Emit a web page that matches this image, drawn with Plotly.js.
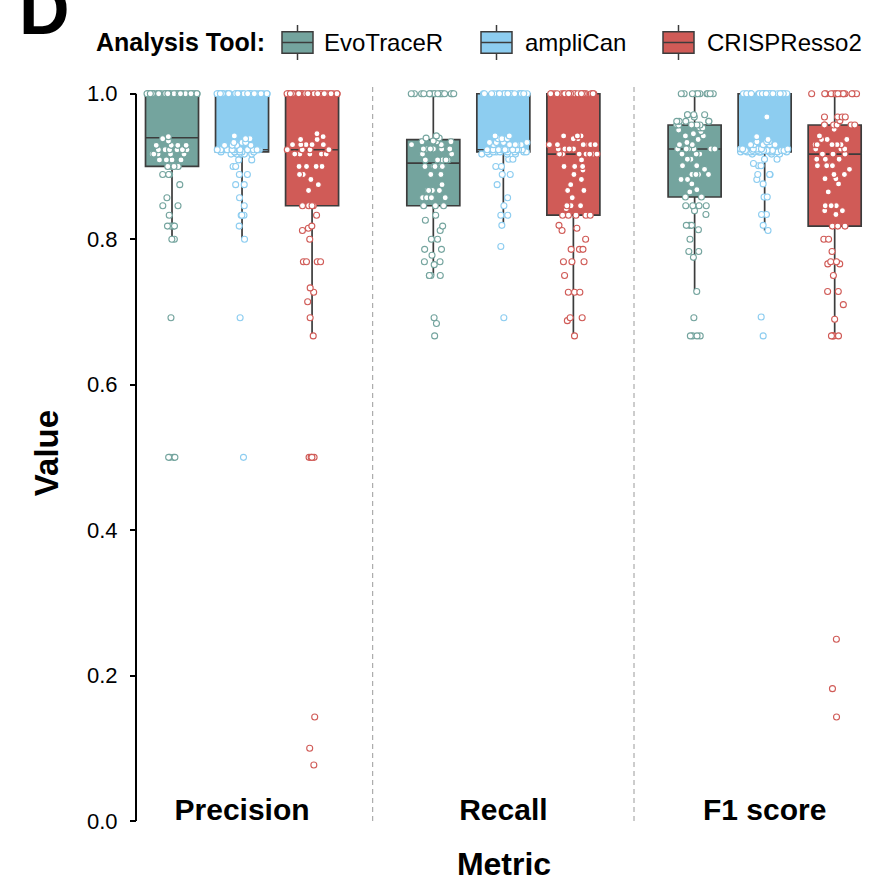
<!DOCTYPE html>
<html>
<head>
<meta charset="utf-8">
<script src="https://cdn.plot.ly/plotly-3.0.1.min.js"></script>
<style>html,body{margin:0;padding:0;background:#fff;}</style>
</head>
<body>
<div id="chart" style="width:871px;height:882px;"></div>
<script>
// ---------------- data ----------------
const metrics = ['Precision', 'Recall', 'F1 score'];
const tools = ['EvoTraceR', 'ampliCan', 'CRISPResso2'];
const toolColors = ['#74A49E', '#8DCDF0', '#D05B57'];
const yTicks = [0, 0.2, 0.4, 0.6, 0.8, 1.0];
const legendTitle = 'Analysis Tool:';
const panelLetter = 'D';

const evoPrecision = [1,1,1,1,1,1,1,1,1,1,1,1,1,1,1,1,1,1,1,1,1,1,1,1,1,1,1,1,1,1,1,1,1,1,1,1,1,1,1,1,1,1,1,
  0.941,0.938,0.935,0.929,0.929,0.929,0.929,0.923,0.923,0.923,0.923,0.923,0.923,0.917,0.917,0.917,0.917,0.917,
  0.909,0.909,0.909,0.909,0.9,0.9,0.9,0.9,0.889,0.889,0.889,0.875,0.857,0.846,0.846,0.833,
  0.818,0.818,0.818,0.818,0.8,0.8,0.692,0.5,0.5,0.5,0.5];
const ampliPrecision = [1,1,1,1,1,1,1,1,1,1,1,1,1,1,1,1,1,1,1,1,1,1,1,1,1,1,1,1,1,1,1,1,1,1,
  0.942,0.938,0.938,0.933,0.933,0.933,0.929,0.929,0.929,0.929,
  0.923,0.923,0.923,0.923,0.923,0.923,0.923,0.923,0.923,0.923,0.923,0.923,0.923,0.923,0.923,0.923,0.923,0.923,
  0.92,0.92,0.92,0.92,0.92,0.92,
  0.917,0.917,0.917,0.917,0.917,0.909,0.909,0.9,0.9,0.889,0.889,0.875,0.875,0.857,0.846,
  0.833,0.833,0.833,0.818,0.8,0.692,0.5];
const crisPrecision = [1,1,1,1,1,1,1,1,1,1,1,1,1,1,1,1,1,1,1,1,1,1,1,1,1,1,1,1,1,1,1,1,1,1,1,
  0.945,0.941,0.937,0.937,0.93,0.93,0.93,0.93,0.93,
  0.923,0.923,0.923,0.923,0.923,0.923,
  0.917,0.917,0.917,0.917,0.917,0.9,0.9,0.9,0.9,0.9,0.889,0.889,0.882,0.875,0.867,
  0.846,0.846,0.846,0.846,0.833,0.818,0.815,0.812,0.8,0.769,0.769,0.769,0.769,
  0.733,0.727,0.714,0.692,0.667,0.5,0.5,0.5,0.5,0.143,0.1,0.077];

const evoRecall = [1,1,1,1,1,1,1,1,1,1,1,1,1,1,1,1,1,
  0.942,0.939,0.939,0.935,0.934,0.934,0.934,0.93,0.93,
  0.924,0.924,0.924,0.924,0.924,0.924,0.917,0.917,
  0.909,0.909,0.909,0.909,0.909,0.909,0.9,0.9,0.9,0.9,0.9,0.9,
  0.889,0.889,0.875,0.867,0.867,0.867,0.867,0.857,0.857,0.857,0.857,0.857,0.846,0.846,0.846,
  0.833,0.826,0.818,0.812,0.8,0.8,0.786,0.786,0.778,0.769,0.769,0.765,
  0.75,0.75,0.75,0.75,0.692,0.684,0.667];
const ampliRecall = [1,1,1,1,1,1,1,1,1,1,1,1,1,1,1,1,1,1,1,1,1,1,1,
  0.942,0.942,0.938,0.938,0.938,0.933,0.933,0.933,0.933,0.93,0.93,0.93,0.93,0.93,
  0.923,0.923,0.923,0.923,0.923,0.923,0.923,0.923,0.923,0.923,0.923,0.923,0.923,
  0.92,0.92,0.92,0.92,0.92,0.92,0.92,0.92,
  0.917,0.917,0.917,0.917,0.91,0.91,0.9,0.9,0.889,0.889,0.875,0.857,0.846,
  0.833,0.833,0.819,0.79,0.692];
const crisRecall = [1,1,1,1,1,1,1,1,1,1,1,1,1,1,1,1,1,1,1,1,1,1,1,1,1,
  0.942,0.942,0.942,0.938,0.938,0.93,0.93,0.93,0.93,0.93,0.93,0.924,0.924,0.924,0.924,
  0.917,0.917,0.917,0.917,0.917,0.917,0.917,
  0.909,0.9,0.9,0.9,0.9,0.895,0.889,0.882,0.875,0.867,0.867,0.857,0.846,0.846,0.846,0.842,
  0.833,0.833,0.833,0.833,0.833,
  0.819,0.815,0.812,0.8,0.786,0.786,0.786,0.769,0.769,0.769,0.75,0.727,0.727,0.727,
  0.692,0.692,0.688,0.667];

const evoF1 = [1,1,1,1,1,1,1,1,1,1,
  0.971,0.971,0.971,0.971,0.968,0.962,0.962,0.962,0.962,0.962,
  0.957,0.957,0.957,0.957,0.957,0.953,0.953,0.95,0.948,0.945,0.942,0.942,0.937,0.933,0.93,0.93,
  0.924,0.924,0.924,0.924,0.924,0.924,
  0.917,0.917,0.917,0.91,0.91,0.901,0.901,0.901,0.896,0.889,0.889,0.889,0.889,0.882,0.882,0.876,0.868,0.865,0.858,0.858,
  0.846,0.846,0.846,0.846,0.839,0.834,0.819,0.819,0.819,0.813,0.8,0.783,0.783,0.775,
  0.728,0.692,0.667,0.667,0.667,0.667];
const ampliF1 = [1,1,1,1,1,1,1,1,1,1,1,1,1,1,1,1,1,1,1,1,1,1,1,1,1,
  0.968,0.941,0.937,0.934,0.934,0.934,0.93,0.93,0.93,0.93,0.93,0.924,0.924,0.924,0.924,0.924,0.924,
  0.922,0.922,0.922,0.922,0.922,0.922,0.922,0.922,0.922,0.922,0.922,0.922,
  0.92,0.92,0.92,0.92,0.92,0.92,0.92,0.92,0.92,0.92,0.92,
  0.917,0.917,0.917,0.91,0.91,0.904,0.901,0.901,0.889,0.889,0.889,0.882,0.876,0.858,0.858,
  0.834,0.834,0.819,0.812,0.693,0.667];
const crisF1 = [1,1,1,1,1,1,1,1,1,1,1,1,1,1,1,
  0.968,0.968,0.968,0.968,0.963,
  0.957,0.957,0.957,0.957,0.957,0.957,0.951,0.942,0.937,0.937,0.937,0.937,0.93,0.93,0.93,0.93,0.93,0.924,0.924,0.924,0.924,
  0.917,0.917,0.917,
  0.91,0.91,0.91,0.901,0.901,0.901,0.901,0.896,0.889,0.889,0.883,0.883,0.876,0.865,0.846,0.846,0.846,0.839,0.839,0.834,
  0.818,0.818,0.818,
  0.8,0.8,0.783,0.769,0.769,0.766,0.766,0.75,0.728,0.728,0.71,0.69,0.667,0.667,0.667,0.667,0.25,0.182,0.143];

const toolData = [
  [evoPrecision, evoRecall, evoF1],
  [ampliPrecision, ampliRecall, ampliF1],
  [crisPrecision, crisRecall, crisF1]
];

// ---------------- chart ----------------
const SANS = 'Liberation Sans, Arial, Helvetica, sans-serif';
const LINE = '#3c3c3c';

const traces = tools.map((name, k) => {
  const x = [], y = [];
  metrics.forEach((m, j) => {
    toolData[k][j].forEach(v => { x.push(m); y.push(v); });
  });
  return {
    type: 'box', name: name, x: x, y: y,
    boxpoints: 'all', jitter: 0.95, pointpos: 0,
    quartilemethod: 'linear',
    fillcolor: toolColors[k],
    line: { color: LINE, width: 1.7 },
    whiskerwidth: 0,
    marker: { color: '#ffffff', size: 6, line: { color: toolColors[k], width: 1.1 } },
    hoverinfo: 'skip', showlegend: false
  };
});

// plot area geometry (px) for placing the hand-built legend
const W = 871, H = 882, ML = 137, MR = 0, MT = 85, MB = 61;
const PW = W - ML - MR, PH = H - MT - MB;
const px2x = p => (p - ML) / PW;
const py2y = p => (H - MB - p) / PH;

const shapes = [];
// panel separators
[0.5, 1.5].forEach(xv => shapes.push({
  type: 'line', xref: 'x', yref: 'paper', x0: xv, x1: xv, y0: 0, y1: 1,
  line: { color: '#9a9a9a', width: 1, dash: '5px,4px' }, layer: 'below'
}));
// y axis line from 0 to 1
shapes.push({
  type: 'line', xref: 'paper', yref: 'y', x0: px2x(136), x1: px2x(136), y0: 0, y1: 1,
  line: { color: '#000', width: 2 }, layer: 'above'
});

const legendLeft = [282, 481, 663];
const legendTextLeft = [323, 524, 706];
const annotations = [
  { text: panelLetter, xref: 'paper', yref: 'paper', x: px2x(18), y: py2y(50), xanchor: 'left', yanchor: 'bottom',
    showarrow: false, borderpad: 0, font: { family: SANS, size: 70, color: '#000', weight: 'bold' } },
  { text: legendTitle, xref: 'paper', yref: 'paper', x: px2x(95), y: py2y(57), xanchor: 'left', yanchor: 'bottom',
    showarrow: false, borderpad: 0, font: { family: SANS, size: 25, color: '#000', weight: 'bold' } }
];
tools.forEach((name, k) => {
  const L = legendLeft[k];
  shapes.push({ type: 'line', xref: 'paper', yref: 'paper', x0: px2x(L + 15.5), x1: px2x(L + 15.5), y0: py2y(25), y1: py2y(60),
    line: { color: LINE, width: 1.5 } });
  shapes.push({ type: 'rect', xref: 'paper', yref: 'paper', x0: px2x(L), x1: px2x(L + 31), y0: py2y(31.7), y1: py2y(53.3),
    fillcolor: toolColors[k], line: { color: LINE, width: 1.5 } });
  shapes.push({ type: 'line', xref: 'paper', yref: 'paper', x0: px2x(L), x1: px2x(L + 31), y0: py2y(42.5), y1: py2y(42.5),
    line: { color: LINE, width: 1.5 } });
  annotations.push({ text: name, xref: 'paper', yref: 'paper', x: px2x(legendTextLeft[k]), y: py2y(57),
    xanchor: 'left', yanchor: 'bottom', showarrow: false, borderpad: 0,
    font: { family: SANS, size: 24, color: '#000' } });
});

const layout = {
  width: W, height: H,
  margin: { l: ML, r: MR, t: MT, b: MB, pad: 0 },
  paper_bgcolor: '#ffffff', plot_bgcolor: '#ffffff',
  boxmode: 'group', boxgap: 0.196, boxgroupgap: 0.243,
  showlegend: false,
  xaxis: {
    type: 'category', categoryorder: 'array', categoryarray: metrics,
    range: [-0.402, 2.407],
    anchor: 'free', position: 0.0435,
    showline: false, showgrid: false, zeroline: false, ticks: '', ticklen: 0,
    tickfont: { family: SANS, size: 30, color: '#000', weight: 'bold' },
    title: { text: 'Metric', standoff: 28, font: { family: SANS, size: 32, color: '#000', weight: 'bold' } },
    fixedrange: true
  },
  yaxis: {
    range: [0, 1.012],
    tickvals: yTicks, tickformat: '.1f',
    ticks: 'outside', ticklen: 6, tickwidth: 2, tickcolor: '#000',
    showline: false, showgrid: false, zeroline: false,
    ticklabelstandoff: 8,
    tickfont: { family: SANS, size: 22, color: '#000' },
    title: { text: 'Value', standoff: 18, font: { family: SANS, size: 33, color: '#000', weight: 'bold' } },
    fixedrange: true
  },
  shapes: shapes,
  annotations: annotations
};

Plotly.newPlot('chart', traces, layout, { staticPlot: true, displayModeBar: false });
</script>
</body>
</html>
